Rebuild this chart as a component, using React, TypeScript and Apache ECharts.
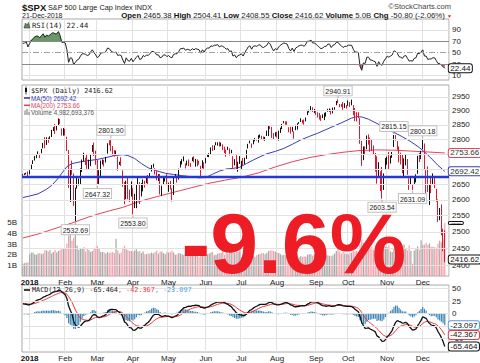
import React, { useEffect, useRef } from 'react';
import * as echarts from 'echarts';

// Daily bars: [day of month, open, close, low, high]
type DayBar = [number, number, number, number, number];

const DEC_2017: DayBar[] = [
  [26, 2679.09, 2680.5, 2677.96, 2682.74], [27, 2682.1, 2682.62, 2680.05, 2685.64],
  [28, 2686.1, 2687.54, 2682.42, 2687.66], [29, 2689.15, 2673.61, 2673.61, 2692.12],
];
const JAN_2018: DayBar[] = [
  [2, 2683.73, 2695.81, 2682.36, 2695.89], [3, 2697.85, 2713.06, 2697.77, 2714.37], [4, 2719.31, 2723.99, 2716.66, 2729.29],
  [5, 2731.33, 2743.15, 2727.92, 2743.45], [8, 2742.67, 2747.71, 2736.06, 2748.51], [9, 2751.15, 2751.29, 2748.76, 2759.14],
  [10, 2745.55, 2748.23, 2736.83, 2750.8], [11, 2752.97, 2767.56, 2752.78, 2767.56], [12, 2770.18, 2786.24, 2769.63, 2787.85],
  [16, 2798.96, 2776.42, 2769.64, 2807.54], [17, 2784.99, 2802.56, 2780.8, 2807.04], [18, 2802.4, 2798.03, 2788.54, 2805.83],
  [19, 2802.6, 2810.3, 2797.77, 2810.33], [22, 2809.16, 2832.97, 2808.12, 2833.03], [23, 2835.05, 2839.13, 2828.71, 2842.24],
  [24, 2845.42, 2837.54, 2818.91, 2852.97], [25, 2846.24, 2839.25, 2830.94, 2848.56], [26, 2847.48, 2872.87, 2846.18, 2872.87],
  [29, 2867.23, 2853.53, 2852.48, 2870.62], [30, 2832.74, 2822.43, 2813.04, 2837.75], [31, 2832.41, 2823.81, 2812.74, 2839.26],
];
const FEB_2018: DayBar[] = [
  [1, 2816.45, 2821.98, 2813.04, 2835.96], [2, 2808.92, 2762.13, 2759.97, 2808.92], [5, 2741.06, 2648.94, 2638.17, 2763.39],
  [6, 2614.78, 2695.14, 2593.07, 2701.04], [7, 2690.95, 2681.66, 2681.19, 2727.67], [8, 2685.01, 2581.0, 2580.56, 2685.27],
  [9, 2601.78, 2619.55, 2532.69, 2638.67], [12, 2636.75, 2656.0, 2635.81, 2672.61], [13, 2646.27, 2662.94, 2646.27, 2668.84],
  [14, 2651.21, 2698.63, 2648.72, 2702.1], [15, 2713.46, 2731.2, 2689.82, 2731.51], [16, 2727.14, 2732.22, 2725.11, 2754.42],
  [20, 2722.99, 2716.26, 2713.57, 2737.6], [21, 2720.53, 2701.33, 2700.68, 2747.75], [22, 2710.42, 2703.96, 2697.77, 2731.26],
  [23, 2715.8, 2747.3, 2709.54, 2747.76], [26, 2757.37, 2779.6, 2757.37, 2780.64], [27, 2780.45, 2744.28, 2743.99, 2789.15],
  [28, 2753.78, 2713.83, 2713.83, 2761.52],
];
const MAR_2018: DayBar[] = [
  [1, 2715.22, 2677.67, 2647.32, 2730.89], [2, 2658.89, 2691.25, 2647.49, 2696.25], [5, 2681.06, 2720.94, 2675.75, 2728.09],
  [6, 2730.18, 2728.12, 2714.96, 2732.08], [7, 2710.18, 2726.8, 2708.2, 2730.6], [8, 2732.75, 2738.97, 2721.74, 2740.45],
  [9, 2752.91, 2786.57, 2751.54, 2786.57], [12, 2790.54, 2783.02, 2779.26, 2796.98], [13, 2792.31, 2765.31, 2759.45, 2801.9],
  [14, 2774.06, 2749.48, 2744.38, 2777.11], [15, 2754.27, 2747.33, 2741.47, 2763.03], [16, 2750.57, 2752.01, 2749.97, 2761.85],
  [19, 2741.38, 2712.92, 2694.59, 2741.38], [20, 2715.05, 2716.94, 2713.69, 2724.22], [21, 2714.99, 2711.93, 2709.79, 2739.14],
  [22, 2691.36, 2643.69, 2642.19, 2695.68], [23, 2646.71, 2588.26, 2585.89, 2657.67], [26, 2619.35, 2658.55, 2601.81, 2661.36],
  [27, 2667.57, 2612.62, 2601.6, 2674.78], [28, 2611.3, 2605.0, 2593.06, 2632.65], [29, 2610.55, 2640.87, 2610.55, 2659.07],
];
const APR_2018: DayBar[] = [
  [2, 2633.45, 2581.88, 2553.8, 2638.3], [3, 2592.17, 2614.45, 2573.61, 2619.14], [4, 2584.04, 2644.69, 2573.31, 2649.86],
  [5, 2657.36, 2662.84, 2649.46, 2672.08], [6, 2645.82, 2604.47, 2586.27, 2656.88], [9, 2617.18, 2613.16, 2610.79, 2653.55],
  [10, 2638.41, 2656.87, 2627.01, 2665.45], [11, 2643.89, 2642.19, 2639.25, 2661.43], [12, 2653.83, 2663.99, 2653.83, 2674.72],
  [13, 2676.9, 2656.3, 2647.16, 2680.26], [16, 2670.1, 2677.84, 2669.75, 2686.49], [17, 2692.74, 2706.39, 2691.84, 2713.34],
  [18, 2710.11, 2708.64, 2704.54, 2717.49], [19, 2701.16, 2693.13, 2681.9, 2702.84], [20, 2692.56, 2670.14, 2662.84, 2693.94],
  [23, 2675.4, 2670.29, 2660.61, 2682.86], [24, 2680.8, 2634.56, 2617.32, 2683.55], [25, 2634.92, 2639.4, 2612.67, 2645.3],
  [26, 2651.65, 2666.94, 2648.94, 2676.48], [27, 2675.47, 2669.91, 2659.01, 2677.35], [30, 2682.51, 2648.05, 2647.04, 2682.92],
];
const MAY_2018: DayBar[] = [
  [1, 2642.96, 2654.8, 2625.41, 2655.27], [2, 2654.24, 2635.67, 2633.04, 2660.87], [3, 2628.08, 2629.73, 2594.62, 2637.14],
  [4, 2621.45, 2663.42, 2615.32, 2670.93], [7, 2680.34, 2672.63, 2670.86, 2683.35], [8, 2670.26, 2671.92, 2655.2, 2676.34],
  [9, 2678.12, 2697.79, 2665.2, 2701.27], [10, 2705.02, 2723.07, 2705.02, 2726.11], [11, 2722.7, 2727.72, 2714.99, 2732.86],
  [14, 2738.47, 2730.13, 2725.56, 2742.1], [15, 2718.59, 2711.45, 2701.91, 2718.59], [16, 2712.62, 2722.46, 2711.83, 2727.76],
  [17, 2719.71, 2720.13, 2709.18, 2731.96], [18, 2717.35, 2712.97, 2707.38, 2719.5], [21, 2735.39, 2733.01, 2726.16, 2739.19],
  [22, 2738.34, 2724.44, 2721.88, 2742.24], [23, 2713.98, 2733.29, 2707.84, 2733.33], [24, 2730.94, 2727.76, 2708.95, 2731.97],
  [25, 2723.6, 2721.33, 2714.27, 2727.36], [29, 2705.11, 2689.86, 2676.81, 2710.67], [30, 2702.43, 2724.01, 2702.43, 2729.34],
  [31, 2720.98, 2705.27, 2700.68, 2722.5],
];
const JUN_2018: DayBar[] = [
  [1, 2718.7, 2734.62, 2718.7, 2736.93], [4, 2741.67, 2746.87, 2740.54, 2749.16], [5, 2748.46, 2748.8, 2739.51, 2752.61],
  [6, 2753.25, 2772.35, 2747.86, 2772.39], [7, 2774.84, 2770.37, 2760.6, 2779.9], [8, 2765.84, 2779.03, 2763.59, 2779.39],
  [11, 2780.18, 2782.0, 2779.9, 2790.21], [12, 2785.6, 2786.85, 2778.78, 2789.8], [13, 2787.94, 2775.63, 2775.38, 2791.47],
  [14, 2783.21, 2782.49, 2776.52, 2789.06], [15, 2777.78, 2779.66, 2763.03, 2782.81], [18, 2765.79, 2773.75, 2753.44, 2774.99],
  [19, 2752.01, 2762.59, 2740.99, 2765.05], [20, 2769.73, 2767.32, 2763.91, 2774.86], [21, 2769.28, 2749.76, 2745.05, 2769.28],
  [22, 2760.79, 2754.88, 2752.68, 2764.17], [25, 2742.94, 2717.07, 2698.67, 2742.94], [26, 2722.12, 2723.06, 2712.2, 2732.91],
  [27, 2728.45, 2699.63, 2698.95, 2746.09], [28, 2698.69, 2716.31, 2691.01, 2724.34], [29, 2727.13, 2718.37, 2716.88, 2743.26],
];
const JUL_2018: DayBar[] = [
  [2, 2704.95, 2726.71, 2698.95, 2727.26], [3, 2733.27, 2713.22, 2712.67, 2736.58], [5, 2724.19, 2736.61, 2716.02, 2737.83],
  [6, 2737.68, 2759.82, 2733.27, 2764.41], [9, 2768.51, 2784.17, 2768.51, 2784.65], [10, 2788.56, 2793.84, 2786.26, 2795.58],
  [11, 2779.82, 2774.02, 2770.77, 2785.91], [12, 2783.14, 2798.29, 2783.14, 2799.22], [13, 2796.93, 2801.31, 2793.19, 2804.53],
  [16, 2800.75, 2798.43, 2795.56, 2801.17], [17, 2789.34, 2809.55, 2788.81, 2814.19], [18, 2811.35, 2815.62, 2805.89, 2816.76],
  [19, 2809.37, 2804.49, 2799.77, 2812.05], [20, 2804.55, 2801.83, 2796.93, 2809.7], [23, 2799.17, 2806.98, 2795.14, 2808.61],
  [24, 2820.68, 2820.4, 2811.44, 2829.99], [25, 2817.73, 2846.07, 2811.44, 2848.03], [26, 2835.49, 2837.44, 2835.49, 2845.57],
  [27, 2842.35, 2818.82, 2805.14, 2843.17], [30, 2819.0, 2802.6, 2798.11, 2821.74], [31, 2809.73, 2816.29, 2809.73, 2824.46],
];
const AUG_2018: DayBar[] = [
  [1, 2821.17, 2813.36, 2805.85, 2825.83], [2, 2800.48, 2827.22, 2795.55, 2829.91], [3, 2829.62, 2840.35, 2822.12, 2840.38],
  [6, 2840.29, 2850.4, 2835.1, 2853.29], [7, 2855.92, 2858.45, 2855.92, 2863.43], [8, 2856.79, 2857.7, 2850.62, 2862.44],
  [9, 2857.19, 2853.58, 2850.49, 2862.48], [10, 2838.9, 2833.28, 2824.46, 2842.2], [13, 2835.46, 2821.93, 2819.88, 2843.4],
  [14, 2827.88, 2839.96, 2826.58, 2843.11], [15, 2827.95, 2818.37, 2802.49, 2827.95], [16, 2831.44, 2840.69, 2831.44, 2850.49],
  [17, 2838.32, 2850.13, 2833.73, 2855.63], [20, 2853.93, 2857.05, 2853.93, 2859.76], [21, 2861.51, 2862.96, 2860.31, 2873.23],
  [22, 2860.99, 2861.82, 2855.42, 2867.54], [23, 2860.29, 2856.98, 2850.81, 2868.78], [24, 2862.35, 2874.69, 2862.35, 2876.16],
  [27, 2884.69, 2896.74, 2884.69, 2898.25], [28, 2901.45, 2897.52, 2893.5, 2903.77], [29, 2900.62, 2914.04, 2898.37, 2916.5],
  [30, 2908.94, 2901.13, 2895.22, 2912.46], [31, 2898.37, 2901.52, 2891.73, 2906.32],
];
const SEP_2018: DayBar[] = [
  [4, 2896.96, 2896.72, 2885.25, 2900.18], [5, 2891.59, 2888.6, 2875.94, 2894.21], [6, 2888.64, 2878.05, 2868.67, 2892.05],
  [7, 2868.26, 2871.68, 2864.12, 2883.81], [10, 2881.39, 2877.13, 2874.27, 2886.93], [11, 2871.57, 2887.89, 2866.78, 2892.52],
  [12, 2888.29, 2888.92, 2879.2, 2894.65], [13, 2896.85, 2904.18, 2896.85, 2906.76], [14, 2906.38, 2904.98, 2896.39, 2908.3],
  [17, 2903.83, 2888.8, 2886.16, 2904.65], [18, 2890.74, 2904.31, 2890.74, 2911.17], [19, 2906.6, 2907.95, 2903.77, 2912.36],
  [20, 2919.73, 2930.75, 2919.73, 2934.8], [21, 2936.76, 2929.67, 2927.11, 2940.91], [24, 2921.83, 2919.37, 2912.63, 2923.79],
  [25, 2921.75, 2915.56, 2913.7, 2923.95], [26, 2916.98, 2905.97, 2903.28, 2931.15], [27, 2911.65, 2914.0, 2909.39, 2927.22],
  [28, 2910.03, 2913.98, 2907.92, 2920.53],
];
const OCT_2018: DayBar[] = [
  [1, 2926.29, 2924.59, 2917.73, 2937.06], [2, 2923.8, 2923.43, 2913.36, 2931.42], [3, 2931.69, 2925.51, 2919.37, 2939.86],
  [4, 2919.35, 2901.61, 2883.92, 2919.78], [5, 2902.54, 2885.57, 2862.88, 2909.64], [8, 2877.53, 2884.43, 2862.08, 2894.83],
  [9, 2882.51, 2880.34, 2874.02, 2894.83], [10, 2873.9, 2785.68, 2784.86, 2874.02], [11, 2776.87, 2728.37, 2710.51, 2795.14],
  [12, 2770.54, 2767.13, 2729.44, 2775.77], [15, 2763.83, 2750.79, 2749.03, 2775.99], [16, 2767.05, 2809.92, 2766.91, 2813.46],
  [17, 2811.67, 2809.21, 2781.81, 2816.94], [18, 2802.0, 2768.78, 2757.45, 2806.04], [19, 2775.66, 2767.78, 2760.27, 2797.77],
  [22, 2773.94, 2755.88, 2749.22, 2778.94], [23, 2721.03, 2740.69, 2691.43, 2753.59], [24, 2737.87, 2656.1, 2651.89, 2742.59],
  [25, 2674.88, 2705.57, 2674.88, 2722.7], [26, 2667.86, 2658.69, 2628.16, 2692.38], [29, 2682.65, 2641.25, 2603.54, 2706.85],
  [30, 2640.68, 2682.63, 2631.59, 2685.43], [31, 2705.6, 2711.74, 2699.46, 2736.69],
];
const NOV_2018: DayBar[] = [
  [1, 2717.58, 2740.37, 2714.16, 2741.67], [2, 2745.45, 2723.06, 2699.14, 2756.55], [5, 2726.37, 2738.31, 2717.94, 2744.27],
  [6, 2738.4, 2755.45, 2737.08, 2756.82], [7, 2774.13, 2813.89, 2774.13, 2815.15], [8, 2806.38, 2806.83, 2795.73, 2814.75],
  [9, 2794.1, 2781.01, 2764.24, 2794.1], [12, 2773.93, 2726.22, 2722.26, 2775.99], [13, 2730.05, 2722.18, 2714.98, 2754.6],
  [14, 2737.9, 2701.58, 2685.75, 2746.8], [15, 2693.52, 2730.2, 2670.75, 2735.38], [16, 2718.54, 2736.27, 2712.16, 2746.75],
  [19, 2730.74, 2690.73, 2681.09, 2733.16], [20, 2654.6, 2641.89, 2631.52, 2669.44], [21, 2657.74, 2649.93, 2649.93, 2670.73],
  [23, 2633.36, 2632.56, 2631.09, 2647.55], [26, 2649.97, 2673.45, 2649.97, 2674.35], [27, 2663.75, 2682.17, 2655.89, 2682.53],
  [28, 2691.45, 2743.79, 2684.38, 2744.0], [29, 2736.97, 2737.8, 2722.94, 2753.75], [30, 2737.76, 2760.17, 2732.76, 2760.88],
];
const DEC_2018: DayBar[] = [
  [3, 2790.5, 2790.37, 2766.39, 2800.18], [4, 2782.43, 2700.06, 2697.18, 2785.93], [6, 2663.51, 2695.95, 2621.53, 2696.15],
  [7, 2691.26, 2633.08, 2624.55, 2708.54], [10, 2630.86, 2637.72, 2583.23, 2647.51], [11, 2664.44, 2636.78, 2621.33, 2674.35],
  [12, 2658.23, 2651.07, 2650.26, 2685.44], [13, 2658.7, 2650.54, 2637.27, 2670.19], [14, 2629.68, 2599.95, 2593.84, 2635.07],
  [17, 2590.75, 2545.94, 2530.54, 2601.13], [18, 2559.9, 2546.16, 2535.7, 2573.99], [19, 2547.05, 2506.96, 2488.96, 2585.29],
  [20, 2496.77, 2467.42, 2441.18, 2509.63], [21, 2465.38, 2416.62, 2408.55, 2504.41],
];

const MONTHS: [string, DayBar[]][] = [
  ['2017-12', DEC_2017], ['2018-01', JAN_2018], ['2018-02', FEB_2018], ['2018-03', MAR_2018],
  ['2018-04', APR_2018], ['2018-05', MAY_2018], ['2018-06', JUN_2018], ['2018-07', JUL_2018],
  ['2018-08', AUG_2018], ['2018-09', SEP_2018], ['2018-10', OCT_2018], ['2018-11', NOV_2018], ['2018-12', DEC_2018],
];

// Daily volume, billions of shares (one entry per bar above)
const VOLUME_B = [
  1.15, 1.2, 1.25, 1.3,
  2.05, 2.2, 2.2, 2.05, 2.0, 2.1, 2.15, 2.05, 2.1, 2.45, 2.4, 2.3, 2.45, 2.1, 2.25, 2.45, 2.2, 2.35, 2.45, 2.55, 2.6,
  2.55, 3.05, 3.8, 4.25, 3.3, 3.6, 4.05, 2.85, 2.45, 2.6, 2.6, 2.7, 2.3, 2.55, 2.45, 2.25, 2.35, 2.6, 2.65,
  2.85, 2.55, 2.25, 2.25, 2.2, 2.1, 2.25, 2.15, 2.2, 2.25, 2.15, 3.5, 2.4, 2.1, 2.2, 2.65, 2.85, 2.5, 2.45, 2.35, 2.35,
  2.3, 2.4, 2.5, 2.3, 2.35, 2.15, 2.3, 2.05, 2.05, 2.1, 2.1, 2.2, 2.1, 2.25, 2.4, 2.1, 2.3, 2.3, 2.15, 2.05, 2.25,
  2.2, 2.25, 2.4, 2.2, 2.0, 2.05, 2.15, 2.1, 2.05, 2.0, 2.15, 2.0, 2.0, 2.1, 2.0, 2.05, 2.0, 1.95, 1.75, 2.35, 2.3, 2.65,
  2.1, 2.05, 2.1, 2.2, 2.25, 1.95, 2.0, 2.1, 2.15, 2.15, 2.85, 2.0, 2.2, 2.1, 2.25, 2.55, 2.3, 2.15, 2.3, 2.25, 2.4,
  1.75, 1.15, 1.75, 1.8, 1.95, 2.0, 2.0, 1.9, 1.8, 1.95, 2.05, 2.05, 2.15, 2.15, 2.05, 2.15, 2.35, 2.4, 2.4, 2.35, 2.3,
  2.2, 2.15, 2.05, 1.95, 2.0, 1.95, 1.9, 1.95, 1.9, 2.0, 2.1, 1.95, 1.9, 1.75, 1.85, 1.8, 1.85, 1.8, 2.0, 2.05, 2.05, 1.9, 2.05,
  1.9, 2.0, 2.1, 2.05, 1.85, 1.9, 1.95, 1.95, 1.9, 1.85, 1.95, 2.1, 2.35, 4.6, 2.3, 2.1, 2.25, 2.1, 2.1,
  2.05, 2.15, 2.2, 2.4, 2.3, 2.35, 2.2, 2.95, 3.4, 3.1, 2.45, 2.5, 2.5, 2.55, 2.75, 2.45, 2.9, 3.1, 2.85, 3.05, 2.95, 2.8, 2.75,
  2.7, 2.85, 2.3, 2.25, 2.55, 2.3, 2.35, 2.3, 2.55, 2.75, 2.95, 2.55, 2.4, 2.85, 2.35, 1.15, 2.4, 2.5, 2.8, 2.45, 3.35,
  2.9, 2.95, 3.1, 2.9, 3.05, 2.75, 2.75, 2.7, 2.65, 3.05, 3.3, 3.15, 3.45, 4.982693376,
];

const RSI14 = [
  66, 67, 69, 60,
  66, 72, 74, 78, 79, 79, 76, 80, 83, 77, 81, 79, 81, 84, 85, 83, 83, 87, 80, 68, 68,
  67, 55, 33, 41, 40, 29, 33, 37, 38.5, 44, 48, 48, 47, 45, 46, 51, 55, 50, 46,
  41, 44, 49, 50, 50, 52, 58, 57, 53, 51, 50, 51, 45, 46, 45, 37, 31, 41, 36, 35, 40,
  34, 38, 42, 45, 38, 39, 45, 43, 46, 45, 48, 52, 52, 50, 46, 46, 41, 42, 46, 46, 43,
  45, 42, 41, 47, 48, 48, 52, 57, 57, 58, 54, 56, 55, 54, 57, 55, 57, 56, 55, 49, 55, 51,
  56, 58, 58, 62, 61, 63, 63, 64, 60, 62, 61, 59, 56, 57, 52, 53, 44, 46, 41, 45, 46,
  48, 44, 50, 55, 60, 62, 56, 61, 62, 61, 63, 64, 60, 59, 61, 63, 68, 65, 58, 53, 57,
  55, 60, 63, 65, 67, 66, 65, 57, 53, 58, 52, 58, 60, 62, 63, 63, 61, 65, 70, 70, 72, 67, 67,
  65, 62, 59, 57, 58, 61, 61, 65, 65, 59, 63, 64, 68, 68, 64, 62, 59, 61, 61,
  63, 63, 63, 56, 51, 51, 50, 26, 19, 32, 31, 42, 42, 37, 37, 35, 34, 26, 34, 29, 28, 35, 39,
  44, 42, 44, 46, 53, 52, 49, 43, 42, 40, 44, 45, 40, 35, 36, 35, 40, 41, 49, 48, 51,
  55, 44, 44, 38, 39, 39, 41, 41, 36, 31, 31, 28, 25.5, 22.44,
];

const MACD_LINE = [
  19.5, 19.1, 18.9, 17.5,
  17.9, 19.4, 21.2, 24.0, 26.2, 27.9, 28.7, 30.5, 33.1, 34.0, 36.3, 37.4, 38.8, 41.3, 43.2, 44.1, 44.5, 46.9, 46.8, 43.6, 40.8,
  37.9, 30.5, 15.3, 6.9, -0.8, -14.9, -22.7, -25.6, -27.0, -25.0, -20.6, -16.8, -14.9, -14.4, -13.6, -9.5, -3.5, -1.6, -2.5,
  -6.1, -7.7, -6.6, -5.0, -3.8, -1.9, 3.4, 7.3, 8.8, 8.6, 8.2, 8.2, 5.0, 2.7, 0.5, -6.7, -16.7, -18.7, -23.7, -28.0, -28.2,
  -32.7, -33.2, -30.9, -27.3, -28.8, -28.9, -25.2, -23.2, -19.6, -17.2, -13.4, -8.0, -3.5, -1.1, -1.1, -1.1, -3.9, -5.7, -4.8, -3.8, -4.8,
  -4.9, -6.5, -8.1, -6.6, -4.6, -3.1, 0.2, 4.8, 8.7, 11.9, 12.8, 14.2, 14.9, 14.8, 16.1, 16.2, 16.9, 16.8, 16.0, 12.6, 12.6, 11.0,
  11.9, 13.4, 14.7, 17.3, 19.1, 20.9, 22.3, 23.6, 23.4, 23.5, 23.2, 22.1, 20.2, 18.8, 16.1, 14.2, 9.5, 6.3, 1.8, -0.5, -2.0,
  -2.6, -4.0, -3.3, -0.8, 3.1, 6.9, 8.2, 11.1, 13.4, 14.9, 16.8, 18.5, 18.8, 18.6, 18.6, 19.5, 22.0, 23.0, 22.1, 19.8, 18.9,
  17.7, 17.7, 18.6, 19.8, 21.2, 22.0, 22.0, 20.2, 17.6, 16.8, 14.3, 13.9, 14.2, 14.9, 15.7, 16.0, 15.7, 16.7, 19.1, 20.8, 23.2, 23.8, 24.0,
  23.5, 22.2, 20.1, 17.7, 16.1, 15.5, 14.9, 15.5, 15.9, 14.7, 14.8, 15.0, 16.9, 18.0, 17.9, 17.3, 15.8, 15.2, 14.5,
  14.6, 14.5, 14.3, 12.2, 9.1, 6.4, 4.0, -5.6, -17.5, -23.6, -29.4, -28.9, -28.2, -30.6, -32.2, -34.0, -36.3, -44.4, -46.3, -51.0, -55.5, -55.0, -51.8,
  -46.3, -42.9, -38.5, -33.3, -24.2, -17.3, -13.8, -15.2, -16.5, -19.0, -18.4, -17.3, -19.8, -25.5, -29.0, -32.8, -32.1, -30.5, -24.0, -19.1, -13.3,
  -6.2, -7.7, -9.2, -15.2, -19.4, -22.6, -23.6, -24.2, -28.5, -35.8, -41.1, -47.9, -55.8, -65.464,
];

const MACD_SIGNAL = [
  20.7, 20.4, 20.1, 19.6,
  19.2, 19.3, 19.7, 20.5, 21.6, 22.9, 24.1, 25.3, 26.9, 28.3, 29.9, 31.4, 32.9, 34.6, 36.3, 37.9, 39.2, 40.7, 41.9, 42.3, 42.0,
  41.2, 39.0, 34.3, 28.8, 22.9, 15.3, 7.7, 1.1, -4.6, -8.7, -11.0, -12.2, -12.7, -13.1, -13.2, -12.4, -10.6, -8.8, -7.6,
  -7.3, -7.4, -7.2, -6.8, -6.2, -5.3, -3.6, -1.4, 0.6, 2.2, 3.4, 4.4, 4.5, 4.2, 3.4, 1.4, -2.2, -5.5, -9.1, -12.9, -16.0,
  -19.3, -22.1, -23.9, -24.5, -25.4, -26.1, -25.9, -25.4, -24.2, -22.8, -20.9, -18.3, -15.4, -12.5, -10.2, -8.4, -7.5, -7.1, -6.7, -6.1, -5.8,
  -5.7, -5.8, -6.3, -6.4, -6.0, -5.4, -4.3, -2.5, -0.2, 2.2, 4.3, 6.3, 8.0, 9.4, 10.7, 11.8, 12.8, 13.6, 14.1, 13.8, 13.6, 13.0,
  12.8, 12.9, 13.3, 14.1, 15.1, 16.2, 17.5, 18.7, 19.6, 20.4, 21.0, 21.2, 21.0, 20.5, 19.7, 18.6, 16.8, 14.7, 12.1, 9.6, 7.3,
  5.3, 3.4, 2.1, 1.5, 1.8, 2.8, 3.9, 5.3, 7.0, 8.5, 10.2, 11.9, 13.2, 14.3, 15.2, 16.0, 17.2, 18.4, 19.1, 19.3, 19.2,
  18.9, 18.7, 18.7, 18.9, 19.3, 19.9, 20.3, 20.3, 19.7, 19.2, 18.2, 17.3, 16.7, 16.3, 16.2, 16.2, 16.1, 16.2, 16.8, 17.6, 18.7, 19.7, 20.6,
  21.2, 21.4, 21.1, 20.4, 19.6, 18.8, 18.0, 17.5, 17.2, 16.7, 16.3, 16.0, 16.2, 16.6, 16.8, 16.9, 16.7, 16.4, 16.0,
  15.7, 15.5, 15.2, 14.6, 13.5, 12.1, 10.5, 7.3, 2.3, -2.9, -8.2, -12.3, -15.5, -18.5, -21.2, -23.8, -26.3, -29.9, -33.2, -36.7, -40.5, -43.4, -45.1,
  -45.3, -44.8, -43.6, -41.5, -38.1, -33.9, -29.9, -27.0, -24.9, -23.7, -22.6, -21.6, -21.2, -22.1, -23.4, -25.3, -26.7, -27.4, -26.8, -25.2, -22.9,
  -19.5, -17.2, -15.6, -15.5, -16.3, -17.5, -18.8, -19.9, -21.6, -24.4, -27.7, -31.8, -36.6, -42.367,
];

// Moving averages, sampled as [bar index, value]
const MA50: [number, number][] = [
  [0, 2607], [4, 2612], [9, 2619], [14, 2634], [17, 2646], [20, 2664], [23, 2686], [26, 2708], [29, 2718], [34, 2724],
  [39, 2728], [44, 2732], [49, 2738], [54, 2745], [59, 2748], [62, 2745], [66, 2735], [70, 2718], [74, 2704], [79, 2694],
  [84, 2686], [89, 2682], [94, 2678], [99, 2675], [104, 2671], [108, 2672], [112, 2683], [116, 2693], [120, 2700], [124, 2702],
  [128, 2706], [132, 2718], [136, 2730], [140, 2741], [144, 2751], [149, 2759], [154, 2769], [159, 2783], [164, 2798], [169, 2810],
  [174, 2821], [179, 2834], [184, 2847], [189, 2860], [194, 2874], [197, 2879], [200, 2878], [204, 2870], [209, 2855], [214, 2838],
  [219, 2824], [224, 2809], [229, 2792], [234, 2772], [238, 2752], [242, 2730], [245, 2712], [249, 2692.42],
];
const MA200: [number, number][] = [
  [0, 2481], [9, 2493], [19, 2510], [29, 2527], [39, 2546], [49, 2562], [59, 2576], [69, 2595], [79, 2610], [89, 2624],
  [99, 2638], [109, 2652], [119, 2663], [129, 2673], [139, 2687], [149, 2707], [159, 2724], [169, 2738], [179, 2748], [189, 2756],
  [199, 2762], [209, 2764], [219, 2763], [229, 2760], [239, 2757], [249, 2753.66],
];

const PRIOR_YEAR_CLOSE = 2673.61;
const PRICE_TICKS = [2400, 2450, 2500, 2550, 2600, 2650, 2700, 2750, 2800, 2850, 2900, 2950];
const RSI_TICKS = [10, 30, 50, 70, 90];
const MACD_TICKS = [-50, -25, 0, 25, 50];
// tick labels that sit fully under a last-value box
const COVERED_TICKS = [2700, 2750, -25];
const MONTH_LABELS = ['2018', 'Feb', 'Mar', 'Apr', 'May', 'Jun', 'Jul', 'Aug', 'Sep', 'Oct', 'Nov', 'Dec'];

const CALLOUTS: { date: string; value: number; side: 'top' | 'bottom' }[] = [
  { date: '2018-02-09', value: 2532.69, side: 'bottom' },
  { date: '2018-03-01', value: 2647.32, side: 'bottom' },
  { date: '2018-03-13', value: 2801.9, side: 'top' },
  { date: '2018-04-02', value: 2553.8, side: 'bottom' },
  { date: '2018-09-21', value: 2940.91, side: 'top' },
  { date: '2018-10-29', value: 2603.54, side: 'bottom' },
  { date: '2018-11-07', value: 2815.15, side: 'top' },
  { date: '2018-11-23', value: 2631.09, side: 'bottom' },
  { date: '2018-12-03', value: 2800.18, side: 'top' },
];

const FONT = 'Liberation Sans, Arial, Helvetica, sans-serif';
const MONO = 'DejaVu Sans Mono, monospace';
const UP = '#111111';
const DOWN = '#e3172f';

function buildOption() {
  const bars = MONTHS.flatMap(([ym, rows]) =>
    rows.map((r) => ({ date: `${ym}-${String(r[0]).padStart(2, '0')}`, open: r[1], close: r[2], low: r[3], high: r[4] }))
  );
  const last = bars.length - 1;
  const categories = [...bars.map((b) => b.date), 'pad-a', 'pad-b'];
  const rising = bars.map((b, i) => i === 0 || b.close >= bars[i - 1].close);

  const monthStart = new Map<number, string>();
  bars.forEach((b, i) => {
    if (b.date.startsWith('2018') && (i === 0 || bars[i - 1].date.slice(0, 7) !== b.date.slice(0, 7))) {
      monthStart.set(i, MONTH_LABELS[Number(b.date.slice(5, 7)) - 1]);
    }
  });
  const isMonthStart = (i: number) => monthStart.has(i);

  const candleData = bars.map((b, i) => {
    const c = rising[i] ? UP : DOWN;
    return { value: [b.open, b.close, b.low, b.high], itemStyle: { color: c, color0: c, borderColor: c, borderColor0: c } };
  });
  const volumeData = VOLUME_B.map((v, i) => ({ value: v * 1e9, itemStyle: { color: rising[i] ? '#a9a9a9' : '#f2a4ad' } }));
  const histogram = MACD_LINE.map((m, i) => +(m - MACD_SIGNAL[i]).toFixed(3));
  const closes = bars.map((b) => b.close);

  const xAxis = (gridIndex: number, showLabels: boolean) => ({
    type: 'category',
    gridIndex,
    data: categories,
    boundaryGap: true,
    axisLine: { show: false },
    axisTick: { show: false },
    axisPointer: { show: false },
    axisLabel: {
      show: showLabels,
      interval: (i: number) => isMonthStart(i),
      formatter: (_v: string, i: number) => {
        const m = monthStart.get(i);
        return m === '2018' ? '{y|2018}' : m ?? '';
      },
      fontSize: 8,
      color: '#222',
      margin: 2,
      fontFamily: FONT,
      rich: { y: { fontWeight: 'bold', fontSize: 8, color: '#111', fontFamily: FONT } },
    },
    splitLine: { show: true, interval: (i: number) => isMonthStart(i), lineStyle: { color: '#e2e2e2', width: 1 } },
  });

  const hiddenY = { axisLabel: { show: false }, axisLine: { show: false }, axisTick: { show: false }, splitLine: { show: false } };

  const levelLines = (levels: number[], style: (v: number) => object, showLabel = true) => ({
    silent: true,
    symbol: ['none', 'none'],
    animation: false,
    label: {
      show: showLabel,
      position: 'end',
      distance: 3,
      fontSize: 8,
      color: '#222',
      fontFamily: FONT,
      formatter: (p: any) => String(p.value),
    },
    data: levels.map((v) => ({
      yAxis: v,
      lineStyle: style(v),
      ...(COVERED_TICKS.includes(v) ? { label: { show: false } } : {}),
    })),
  });

  const valueBox = (x: number, y: number, text: string, border: string, color = '#111', fontSize = 8, distance = 4) => ({
    coord: [x, y],
    symbol: 'rect',
    symbolSize: 0.1,
    itemStyle: { color: 'rgba(0,0,0,0)' },
    label: {
      show: true,
      position: 'right',
      distance,
      formatter: text,
      backgroundColor: '#fff',
      borderColor: border,
      borderWidth: 1,
      borderRadius: 2,
      padding: [0, 1.5, 0, 1.5],
      fontSize,
      lineHeight: fontSize,
      color,
      fontFamily: FONT,
    },
  });

  const callouts = CALLOUTS.map((c) => ({
    coord: [categories.indexOf(c.date), c.value],
    symbol: 'rect',
    symbolSize: [0.8, 3],
    symbolOffset: [0, c.side === 'top' ? -2.5 : 2.5],
    itemStyle: { color: '#9a9a9a' },
    label: {
      show: true,
      position: c.side,
      distance: 0,
      formatter: c.value.toFixed(2),
      backgroundColor: '#fff',
      borderColor: '#c2c2c2',
      borderWidth: 1,
      padding: [1, 1, 0, 1],
      fontSize: 7,
      lineHeight: 8,
      color: '#222',
      fontFamily: FONT,
    },
  }));

  const invisibleLine = (xi: number, yi: number, data: number[], z: number) => ({
    type: 'line',
    xAxisIndex: xi,
    yAxisIndex: yi,
    data,
    symbol: 'none',
    silent: true,
    lineStyle: { opacity: 0 },
    z,
  });

  const txt = (x: number, y: number, text: string, style: object = {}) => ({
    type: 'text',
    x,
    y,
    z: 50,
    silent: true,
    style: { text, fontFamily: FONT, fontSize: 8, fill: '#111', verticalAlign: 'middle', ...style },
  });

  return {
    animation: false,
    backgroundColor: '#ffffff',
    grid: [
      { left: 22, top: 19, width: 427, height: 61, show: true, borderColor: '#a8a8a8', borderWidth: 1 },
      { left: 22, top: 85, width: 427, height: 191, show: true, borderColor: '#a8a8a8', borderWidth: 1 },
      { left: 22, top: 285, width: 427, height: 67, show: true, borderColor: '#a8a8a8', borderWidth: 1 },
    ],
    xAxis: [xAxis(0, false), xAxis(1, true), xAxis(2, true)],
    yAxis: [
      { type: 'value', gridIndex: 0, min: 2, max: 109, ...hiddenY },
      { type: 'log', gridIndex: 1, min: 2368, max: 2993, logBase: 10, position: 'right', ...hiddenY },
      {
        type: 'value',
        gridIndex: 1,
        min: 0,
        max: 17.92e9,
        interval: 1e9,
        position: 'left',
        axisLine: { show: false },
        axisTick: { show: false },
        splitLine: { show: false },
        axisLabel: {
          fontSize: 8,
          color: '#222',
          margin: 5,
          fontFamily: FONT,
          formatter: (v: number) => (v >= 1e9 && v <= 5e9 ? `${Math.round(v / 1e9)}B` : ''),
        },
      },
      { type: 'value', gridIndex: 2, min: -76.6, max: 57.4, ...hiddenY },
    ],
    series: [
      // RSI panel
      {
        ...invisibleLine(0, 0, RSI14, 1),
        markLine: levelLines(RSI_TICKS, (v) =>
          v === 50
            ? { color: '#a0a0a0', width: 1, type: [6, 2, 1, 2] }
            : v === 30 || v === 70
            ? { color: '#8a8a8a', width: 1, type: 'solid' }
            : { color: '#e2e2e2', width: 1, type: 'solid' }
        ),
      },
      { ...invisibleLine(0, 0, RSI14.map(() => 70), 2), stack: 'overbought' },
      {
        ...invisibleLine(0, 0, RSI14.map((v) => Math.max(v - 70, 0)), 2),
        stack: 'overbought',
        areaStyle: { color: '#5e935e', opacity: 0.95 },
      },
      { ...invisibleLine(0, 0, RSI14.map((v) => Math.min(v, 30)), 2), stack: 'oversold' },
      {
        ...invisibleLine(0, 0, RSI14.map((v) => 30 - Math.min(v, 30)), 2),
        stack: 'oversold',
        areaStyle: { color: '#c2555c', opacity: 0.95 },
      },
      {
        type: 'line',
        xAxisIndex: 0,
        yAxisIndex: 0,
        data: RSI14,
        symbol: 'none',
        lineStyle: { color: '#222', width: 1 },
        z: 4,
        markPoint: { silent: true, animation: false, data: [valueBox(last, RSI14[last], '22.44', '#111')] },
      },

      // Price panel
      {
        ...invisibleLine(1, 1, closes, 1),
        markLine: levelLines(PRICE_TICKS, () => ({ color: '#e2e2e2', width: 1, type: 'solid' })),
      },
      {
        type: 'bar',
        xAxisIndex: 1,
        yAxisIndex: 2,
        data: volumeData,
        barWidth: '72%',
        z: 2,
        markPoint: {
          silent: true,
          animation: false,
          data: [valueBox(last, VOLUME_B[last] * 1e9, '4982693376', '#111', 5.3, 2)],
        },
      },
      {
        type: 'line',
        xAxisIndex: 1,
        yAxisIndex: 1,
        data: MA200,
        symbol: 'none',
        lineStyle: { color: '#e2465a', width: 1 },
        z: 3,
        markPoint: { silent: true, animation: false, data: [valueBox(last, 2753.66, '2753.66', '#e2465a', '#333')] },
      },
      {
        type: 'line',
        xAxisIndex: 1,
        yAxisIndex: 1,
        data: MA50,
        symbol: 'none',
        lineStyle: { color: '#3b3bb8', width: 1 },
        z: 3,
        markPoint: { silent: true, animation: false, data: [valueBox(last, 2692.42, '2692.42', '#3b3bb8', '#333')] },
      },
      {
        type: 'candlestick',
        xAxisIndex: 1,
        yAxisIndex: 1,
        data: candleData,
        barWidth: '70%',
        z: 4,
        markPoint: {
          silent: true,
          animation: false,
          data: [...callouts, valueBox(last, bars[last].close, bars[last].close.toFixed(2), '#111')],
        },
      },
      {
        ...invisibleLine(1, 1, closes, 5),
        markLine: levelLines([PRIOR_YEAR_CLOSE], () => ({ color: '#2338d4', width: 2.4, type: 'solid' }), false),
      },

      // MACD panel
      {
        ...invisibleLine(2, 3, MACD_LINE, 1),
        markLine: levelLines(MACD_TICKS, () => ({ color: '#e2e2e2', width: 1, type: 'solid' })),
      },
      {
        type: 'bar',
        xAxisIndex: 2,
        yAxisIndex: 3,
        data: histogram,
        barWidth: '70%',
        itemStyle: { color: '#3a84b6' },
        z: 2,
        markPoint: { silent: true, animation: false, data: [valueBox(last, histogram[last], '-23.097', '#5a9bd5')] },
      },
      {
        type: 'line',
        xAxisIndex: 2,
        yAxisIndex: 3,
        data: MACD_SIGNAL,
        symbol: 'none',
        lineStyle: { color: '#f0353b', width: 1 },
        z: 3,
        markPoint: { silent: true, animation: false, data: [valueBox(last, MACD_SIGNAL[last], '-42.367', '#f0353b')] },
      },
      {
        type: 'line',
        xAxisIndex: 2,
        yAxisIndex: 3,
        data: MACD_LINE,
        symbol: 'none',
        lineStyle: { color: '#111', width: 1.3 },
        z: 4,
        markPoint: { silent: true, animation: false, data: [valueBox(last, MACD_LINE[last], '-65.464', '#111')] },
      },
    ],
    graphic: [
      // header
      txt(22, 7, '$SPX', { fontSize: 9.5, fontWeight: 'bold' }),
      txt(48, 7, 'S&P 500 Large Cap Index INDX', { fontSize: 7.3, fill: '#222' }),
      txt(451, 6, '©StockCharts.com', { fontSize: 7.5, fill: '#444', align: 'right' }),
      txt(22, 15.5, '21-Dec-2018', { fontSize: 7, fill: '#222' }),
      {
        type: 'text',
        x: 452,
        y: 15.5,
        z: 50,
        silent: true,
        style: {
          text: '{b|Open} 2465.38 {b|High} 2504.41 {b|Low} 2408.55 {b|Close} 2416.62 {b|Volume} 5.0B {b|Chg} -50.80 (-2.06%) {r|▼}',
          fontFamily: FONT,
          fontSize: 7.8,
          fill: '#222',
          align: 'right',
          verticalAlign: 'middle',
          rich: {
            b: { fontWeight: 'bold', fontSize: 7.8, fontFamily: FONT, fill: '#111' },
            r: { fontSize: 5, fill: '#d0202a', fontFamily: FONT },
          },
        },
      },

      // RSI legend
      {
        type: 'polygon',
        z: 50,
        silent: true,
        shape: { points: [[24, 28], [25.5, 23], [27, 25.5], [28.5, 22.5], [30, 28]] },
        style: { fill: '#5e935e', stroke: '#333', lineWidth: 0.6 },
      },
      txt(32, 25, 'RSI(14) 22.44', { fontFamily: MONO, fontSize: 7.2, fill: '#222' }),

      // price legend
      { type: 'line', z: 50, silent: true, shape: { x1: 26, y1: 86.5, x2: 26, y2: 94.5 }, style: { stroke: '#111', lineWidth: 0.8 } },
      { type: 'rect', z: 50, silent: true, shape: { x: 25, y: 88, width: 2, height: 4 }, style: { fill: '#111' } },
      txt(31, 90.5, '$SPX (Daily) 2416.62', { fontFamily: MONO, fontSize: 6.8, fill: '#222' }),
      { type: 'line', z: 50, silent: true, shape: { x1: 24, y1: 98, x2: 30, y2: 98 }, style: { stroke: '#3b3bb8', lineWidth: 1.6 } },
      txt(31, 98, 'MA(50) 2692.42', { fontSize: 6.3, fill: '#3b3bb8' }),
      { type: 'line', z: 50, silent: true, shape: { x1: 24, y1: 105.3, x2: 30, y2: 105.3 }, style: { stroke: '#e2465a', lineWidth: 1.6 } },
      txt(31, 105.3, 'MA(200) 2753.66', { fontSize: 6.3, fill: '#e2465a' }),
      { type: 'rect', z: 50, silent: true, shape: { x: 24.5, y: 111, width: 1, height: 4 }, style: { fill: '#777' } },
      { type: 'rect', z: 50, silent: true, shape: { x: 26.5, y: 109, width: 1, height: 6 }, style: { fill: '#777' } },
      { type: 'rect', z: 50, silent: true, shape: { x: 28.5, y: 112, width: 1, height: 3 }, style: { fill: '#777' } },
      txt(31, 112.6, 'Volume 4,982,693,376', { fontSize: 6.3, fill: '#555' }),

      // MACD legend
      { type: 'line', z: 50, silent: true, shape: { x1: 24, y1: 290, x2: 30, y2: 290 }, style: { stroke: '#111', lineWidth: 1.6 } },
      {
        type: 'text',
        x: 32,
        y: 290,
        z: 50,
        silent: true,
        style: {
          text: 'MACD(12,26,9) -65.464{r|, -42.367}{b|, -23.097}',
          fontFamily: MONO,
          fontSize: 6.8,
          fill: '#222',
          verticalAlign: 'middle',
          rich: {
            r: { fill: '#f0353b', fontFamily: MONO, fontSize: 6.8 },
            b: { fill: '#4aa3dc', fontFamily: MONO, fontSize: 6.8 },
          },
        },
      },

      // year-to-date change
      {
        type: 'text',
        x: 181.5,
        y: 243,
        z: 100,
        silent: true,
        style: {
          text: '-9.6%',
          fontFamily: FONT,
          fontSize: 86,
          fontWeight: 'bold',
          fill: '#ee1d25',
          verticalAlign: 'middle',
          align: 'left',
        },
      },
    ],
  };
}

export default function App() {
  const ref = useRef<HTMLDivElement>(null);
  useEffect(() => {
    if (!ref.current) return;
    const chart = echarts.init(ref.current, undefined, { renderer: 'svg' });
    chart.setOption(buildOption() as any);
    return () => chart.dispose();
  }, []);
  return (
    <div
      ref={ref}
      style={{ position: 'fixed', left: 0, top: 0, width: 480, height: 363, background: '#fff' }}
    />
  );
}
